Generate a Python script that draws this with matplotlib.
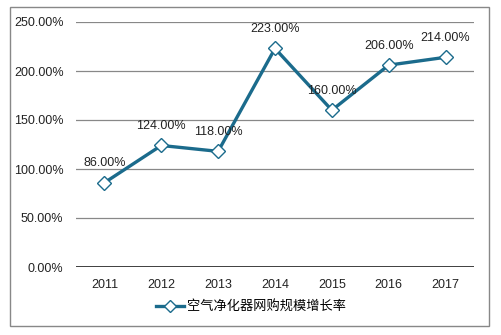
import matplotlib
matplotlib.use("Agg")
import matplotlib.pyplot as plt
from matplotlib.patches import Rectangle
from matplotlib.ticker import FuncFormatter

plt.rcParams['font.family'] = ['Liberation Sans', 'Noto Sans CJK SC', 'DejaVu Sans']

years = ['2011', '2012', '2013', '2014', '2015', '2016', '2017']
growth = [86.0, 124.0, 118.0, 223.0, 160.0, 206.0, 214.0]
series_name = '空气净化器网购规模增长率'
yticks = [0, 50, 100, 150, 200, 250]

color = '#1B6B8C'
W, H = 501, 335
fig = plt.figure(figsize=(W / 100, H / 100), dpi=100)
ax = fig.add_axes([76 / W, 1 - 267 / H, (474 - 76) / W, (267 - 22) / H])

x = list(range(len(years)))
ax.plot(x, growth, color=color, lw=2.4, marker='D', markersize=7.5,
        markerfacecolor='white', markeredgecolor=color, markeredgewidth=1.0,
        label=series_name, zorder=3)

for xi, v in zip(x, growth):
    ax.annotate(f'{v:.2f}%', (xi, v), xytext=(0, 14), textcoords='offset points',
                ha='center', va='center', fontsize=9, color='#222222')

ax.set_xlim(-0.5, len(years) - 0.5)
ax.set_ylim(0, 250)
ax.set_yticks(yticks)
ax.yaxis.set_major_formatter(FuncFormatter(lambda v, p: f'{v:.2f}%'))
ax.set_xticks(x)
ax.set_xticklabels(years)
ax.tick_params(length=0, labelsize=9, colors='#222222')
ax.tick_params(axis='y', pad=9)
ax.tick_params(axis='x', pad=9)
for s in ax.spines.values():
    s.set_visible(False)
ax.grid(axis='y', color='#888888', lw=0.9)
ax.set_axisbelow(True)
ax.axhline(0, color='#222222', lw=1.2, zorder=2)

leg = fig.legend(loc='center', bbox_to_anchor=(251 / W, 1 - 307 / H), frameon=False,
                 handlelength=2.1, handletextpad=0.2, markerscale=0.85,
                 prop={'family': ['Noto Sans CJK SC', 'DejaVu Sans'], 'size': 9.5})

fig.patches.append(Rectangle((10 / W, 1 - 326 / H), (489 - 10) / W, (326 - 7) / H,
                             transform=fig.transFigure, fill=False,
                             edgecolor='#888888', lw=1.0))

fig.savefig('out.png', dpi=100, facecolor='white')
